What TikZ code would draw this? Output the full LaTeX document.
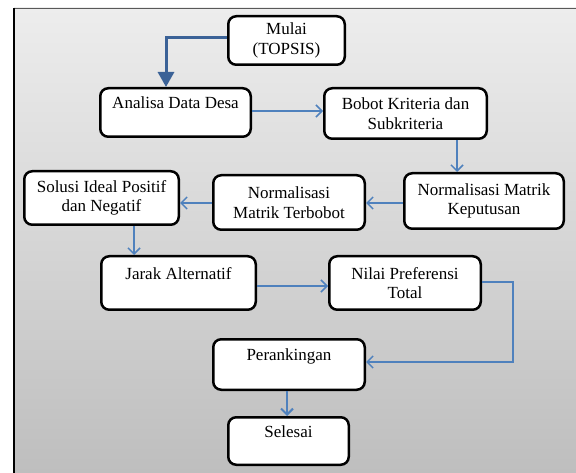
\documentclass[tikz,border=0pt]{standalone}
\usepackage{fontspec}
\setmainfont{Liberation Serif}
\usetikzlibrary{arrows.meta}
\definecolor{arrowblue}{HTML}{4F81BD}
\definecolor{darkblue}{HTML}{3B6297}
\definecolor{bgtop}{HTML}{EDEDED}
\definecolor{bgbot}{HTML}{BEBEBE}
\begin{document}
\begin{tikzpicture}[x=1pt,y=-1pt,
  box/.style={draw=black, line width=2.5pt, rounded corners=8pt, fill=white,
    align=center, inner sep=0pt, font=\fontsize{17}{19.5}\selectfont},
  flow/.style={draw=arrowblue, line width=1.5pt,
    -{Straight Barb[length=6pt,width=12pt,line width=1.5pt]}},
  startflow/.style={draw=darkblue, line width=3pt,
    -{Triangle[length=15pt,width=16pt,fill=darkblue]}},
  endflow/.style={draw=arrowblue, line width=2.5pt,
    -{Straight Barb[length=6pt,width=12pt,line width=2pt]}}
]
\useasboundingbox (0,0) rectangle (576,473);
% background frame
\shade[top color=bgtop, bottom color=bgbot] (14,8) rectangle (576,473);
\draw[black!65, line width=0.9pt] (14,8) -- (576,8);
\draw[black, line width=1.5pt] (14,8) -- (14,473);

% nodes
\node[box, minimum width=116.5pt, minimum height=48.5pt] (mulai) at (286.5,40.5) {Mulai\\(TOPSIS)};
\node[box, minimum width=150.5pt, minimum height=48.5pt] (analisa) at (175.5,112.5) {Analisa Data Desa\\\mbox{}};
\node[box, minimum width=162.5pt, minimum height=50.5pt] (bobot) at (405.5,113.5) {Bobot Kriteria dan\\Subkriteria};
\node[box, minimum width=159.5pt, minimum height=55.5pt] (nk) at (484,201) {Normalisasi Matrik\\Keputusan};
\node[box, minimum width=151.5pt, minimum height=54.5pt] (nt) at (289,202.5) {Normalisasi\\Matrik Terbobot};
\node[box, minimum width=154.5pt, minimum height=53.5pt] (solusi) at (101.5,198) {Solusi Ideal Positif\\dan Negatif};
\node[box, minimum width=154.5pt, minimum height=53.5pt] (jarak) at (178.5,283) {Jarak Alternatif\\\mbox{}};
\node[box, minimum width=151.5pt, minimum height=53.5pt] (nilai) at (405,283) {Nilai Preferensi\\Total};
\node[box, minimum width=151.5pt, minimum height=50.5pt] (perank) at (289,364.5) {Perankingan\\\mbox{}};
\node[box, minimum width=120.5pt, minimum height=47.5pt] (selesai) at (288.5,441) {Selesai\\\mbox{}};

% connectors
\draw[startflow] ([yshift=2.5pt]mulai.west) -| ([xshift=-9.5pt]analisa.north);
\draw[flow] ([yshift=1.5pt]analisa.east) coordinate (a1) -- (a1 -| bobot.west);
\draw[flow] ([xshift=51.5pt]bobot.south) coordinate (b1) -- (b1 |- nk.north);
\draw[flow] ([yshift=-2pt]nk.west) coordinate (k1) -- (k1 -| nt.east);
\draw[flow] ([yshift=-0.5pt]nt.west) coordinate (t1) -- (t1 -| solusi.east);
\draw[flow] ([xshift=32.5pt]solusi.south) coordinate (s1) -- (s1 |- jarak.north);
\draw[flow] ([yshift=-3pt]jarak.east) coordinate (j1) -- (j1 -| nilai.west);
\draw[flow] ([yshift=1pt]nilai.east) -- ++(31,0) |- ([yshift=2.5pt]perank.east);
\draw[endflow] ([xshift=-2pt]perank.south) coordinate (p1) -- (p1 |- selesai.north);
\end{tikzpicture}
\end{document}
